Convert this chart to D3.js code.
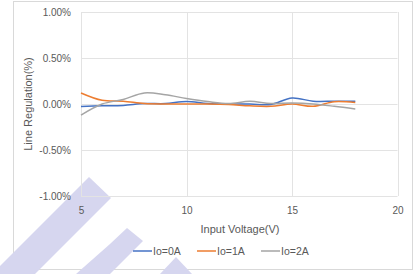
<!DOCTYPE html>
<html><head><meta charset="utf-8">
<script src="https://cdn.jsdelivr.net/npm/d3@7"></script>
<style>html,body{margin:0;padding:0;background:#fff;}svg{display:block;}</style>
</head><body>
<script>
const voltages = [5,6,7,8,9,10,11,12,13,14,15,16,17,18];
const io0A = [-0.027,-0.02,-0.015,0.005,0.005,0.027,0.005,0,0,-0.005,0.065,0.03,0.03,0.03];
const io1A = [0.12,0.04,0.03,0.005,0,0,0,-0.005,-0.02,-0.025,0,-0.025,0.025,0.015];
const io2A = [-0.12,0,0.05,0.12,0.10,0.06,0.027,0.005,0.03,0.005,0.01,0,-0.025,-0.055];
const seriesNames = ["Io=0A","Io=1A","Io=2A"];
const seriesColors = ["#4472C4","#ED7D31","#A5A5A5"];
const xTicks = [5,10,15,20];
const yTicks = [-1,-0.5,0,0.5,1];

const W=414,H=274;
const svg=d3.select("body").append("svg").attr("width",W).attr("height",H);
const font="'Liberation Sans', Arial, sans-serif";

// outer chart border
svg.append("rect").attr("x",13.5).attr("y",1.5).attr("width",399).attr("height",268)
  .attr("fill","#fff").attr("stroke","#d9d9d9");

const x=d3.scaleLinear().domain([5,20]).range([81,397.5]);
const y=d3.scaleLinear().domain([-1,1]).range([196,12]);

// watermark (behind)
const wm=svg.append("g").attr("fill","#d6d6ef");
[[[89,177],[111,198],[35,274],[0,274],[0,266]],
 [[127,228],[143,241],[110,274],[76,274],[110,244]],
 [[160,274],[176,257],[192,274]]].forEach(p=>{
  wm.append("polygon").attr("points",p.map(q=>q.join(",")).join(" "));
});

// grid
const g=svg.append("g");
g.selectAll("line.h").data(yTicks).join("line")
  .attr("x1",x(5)).attr("x2",x(20)).attr("y1",d=>Math.round(y(d))+0.5).attr("y2",d=>Math.round(y(d))+0.5)
  .attr("stroke","#e3e3e3");
g.selectAll("line.v").data(xTicks).join("line")
  .attr("y1",y(-1)).attr("y2",y(1)).attr("x1",d=>Math.round(x(d))+0.5).attr("x2",d=>Math.round(x(d))+0.5)
  .attr("stroke","#e3e3e3");

// axes labels via d3 axes
const yAxis=d3.axisLeft(y).tickValues(yTicks).tickSize(0).tickPadding(10)
  .tickFormat(d=>d.toFixed(2)+"%");
const ya=svg.append("g").attr("transform",`translate(${x(5)},0)`).call(yAxis);
ya.select(".domain").remove();
ya.selectAll("text").attr("font-family",font).attr("font-size",10).attr("fill","#595959");

const xAxis=d3.axisBottom(x).tickValues(xTicks).tickSize(0).tickPadding(11).tickFormat(d3.format("d"));
const xa=svg.append("g").attr("transform",`translate(0,${y(-1)})`).call(xAxis);
xa.select(".domain").remove();
xa.selectAll("text").attr("font-family",font).attr("font-size",10).attr("fill","#595959");

// lines
const all=[io0A,io1A,io2A];
const line=d3.line().x((d,i)=>x(voltages[i])).y(d=>y(d)).curve(d3.curveCatmullRom.alpha(0.5));
all.forEach((s,k)=>{
  svg.append("path").datum(s).attr("d",line).attr("fill","none")
    .attr("stroke",seriesColors[k]).attr("stroke-width",1.5);
});

// titles
svg.append("text").attr("x",240).attr("y",233).attr("text-anchor","middle")
  .attr("font-family",font).attr("font-size",11).attr("fill","#595959").text("Input Voltage(V)");
svg.append("text").attr("transform","translate(32,104) rotate(-90)").attr("text-anchor","middle")
  .attr("font-family",font).attr("font-size",11).attr("fill","#595959").text("Line Regulation(%)");

// legend
const legX=[133,197,261];
const lg=svg.append("g");
seriesNames.forEach((n,k)=>{
  lg.append("line").attr("x1",legX[k]).attr("x2",legX[k]+19).attr("y1",251).attr("y2",251)
    .attr("stroke",seriesColors[k]).attr("stroke-width",1.5);
  lg.append("text").attr("x",legX[k]+20).attr("y",255).attr("font-family",font).attr("font-size",10.5)
    .attr("fill","#595959").text(n);
});
</script>
</body></html>
